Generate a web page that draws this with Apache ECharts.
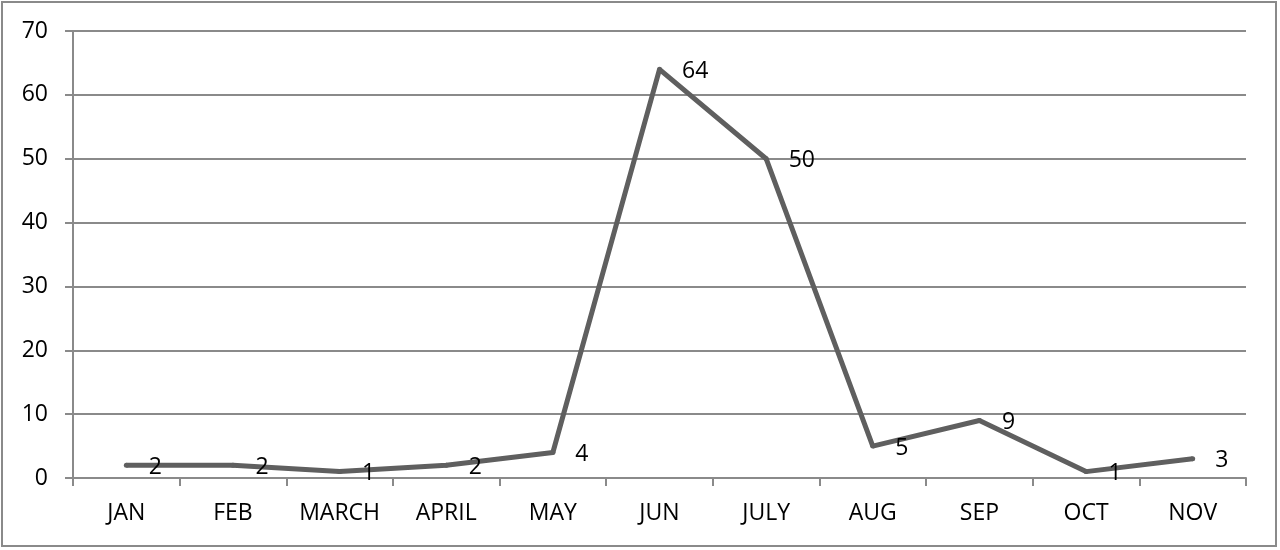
<!DOCTYPE html>
<html><head><meta charset="utf-8">
<script src="https://cdn.jsdelivr.net/npm/echarts@6/dist/echarts.min.js"></script>
<style>html,body{margin:0;padding:0;background:#fff}#c{width:1280px;height:550px}</style>
</head><body><div id="c"></div>
<script>
const categories = ['JAN','FEB','MARCH','APRIL','MAY','JUN','JULY','AUG','SEP','OCT','NOV'];
const values = [2,2,1,2,4,64,50,5,9,1,3];
const yMin = 0, yMax = 70, yStep = 10;
const font = 'Open Sans';
const chart = echarts.init(document.getElementById('c'));
chart.setOption({
  animation:false,
  backgroundColor:'#fff',
  graphic:[{type:'rect',shape:{x:2,y:2,width:1274,height:544},style:{fill:'none',stroke:'#8a8a8a',lineWidth:2},silent:true}],
  grid:{left:73,right:34,top:31,bottom:72,containLabel:false},
  xAxis:{type:'category',data:categories,boundaryGap:true,
    axisLine:{lineStyle:{color:'#8a8a8a',width:2}},
    axisTick:{show:true,length:8,lineStyle:{color:'#8a8a8a',width:2}},
    axisLabel:{color:'#000',fontSize:23,fontFamily:font,margin:24}},
  yAxis:{type:'value',min:yMin,max:yMax,interval:yStep,
    axisLine:{show:true,lineStyle:{color:'#8a8a8a',width:2}},
    axisTick:{show:true,length:8,lineStyle:{color:'#8a8a8a',width:2}},
    splitLine:{lineStyle:{color:'#8a8a8a',width:2}},
    axisLabel:{color:'#000',fontSize:23,fontFamily:font,margin:25}},
  series:[{type:'line',data:values,symbol:'circle',symbolSize:5,
    itemStyle:{color:'#5f5f5f'},
    lineStyle:{color:'#5f5f5f',width:5},
    label:{show:true,position:'right',distance:20,offset:[0,2],color:'#000',fontSize:23,fontFamily:font}}]
});
</script></body></html>
